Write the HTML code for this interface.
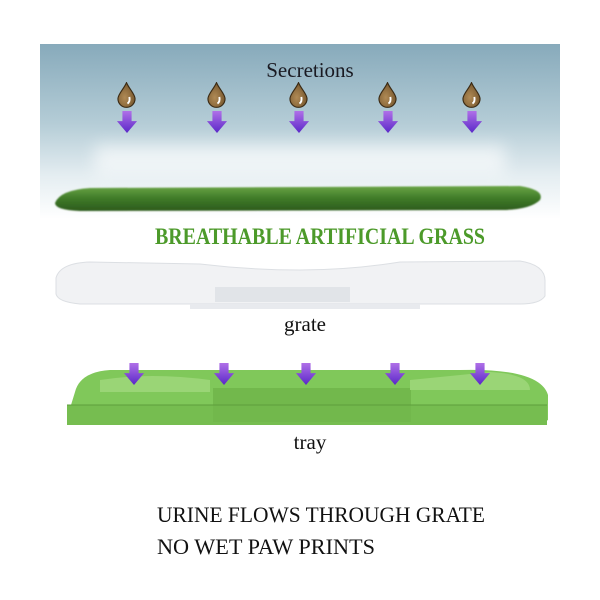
<!DOCTYPE html>
<html><head><meta charset="utf-8"><style>
html,body{margin:0;padding:0;background:#fff;}
svg{display:block}
text{font-family:"Liberation Serif",serif;}
</style></head><body>
<svg width="600" height="600" viewBox="0 0 600 600" xmlns="http://www.w3.org/2000/svg">
<defs>
<linearGradient id="sky" x1="0" y1="0" x2="0" y2="1">
<stop offset="0" stop-color="#87aabb"/>
<stop offset="0.45" stop-color="#b4ccd6"/>
<stop offset="0.75" stop-color="#e4edf1"/>
<stop offset="1" stop-color="#ffffff"/>
</linearGradient>
<linearGradient id="grass" x1="0" y1="0" x2="0" y2="1">
<stop offset="0" stop-color="#6aa545"/>
<stop offset="0.5" stop-color="#3f7a28"/>
<stop offset="1" stop-color="#2c5a1c"/>
</linearGradient>
<linearGradient id="arr" x1="0" y1="0" x2="0" y2="1">
<stop offset="0" stop-color="#b070e8"/>
<stop offset="1" stop-color="#5a28c8"/>
</linearGradient>
<radialGradient id="drop" cx="0.4" cy="0.6" r="0.6">
<stop offset="0" stop-color="#b08a55"/>
<stop offset="1" stop-color="#7a5a30"/>
</radialGradient>
<filter id="bl" x="-50%" y="-50%" width="200%" height="200%"><feGaussianBlur stdDeviation="8"/></filter>
<filter id="bl2"><feGaussianBlur stdDeviation="0.8"/></filter>
<symbol id="a" viewBox="0 0 24 24"><path d="M7 0H17V11H23L12 24L1 11H7Z" fill="url(#arr)"/></symbol>
<symbol id="d" viewBox="0 0 20 26"><path d="M10 0C13 7 19 12 19 17A9 9 0 0 1 1 17C1 12 7 7 10 0Z" fill="url(#drop)" stroke="#3a2a14" stroke-width="1.2"/><path d="M13 15Q14 20 11 22" stroke="#fff" stroke-width="2" fill="none"/></symbol>
</defs>
<rect x="40" y="44" width="520" height="175" fill="url(#sky)"/>
<g fill="#fff" opacity="0.6" filter="url(#bl)">
<rect x="95" y="145" width="410" height="30"/>
</g>
<path d="M55 203Q60 190 90 188L520 186Q545 190 540 200Q530 210 500 210L80 211Q55 210 55 203Z" fill="url(#grass)" filter="url(#bl2)"/>
<text x="310" y="77" font-size="21" text-anchor="middle" fill="#1a1a22">Secretions</text>
<g>
<use href="#d" x="117" y="82" width="19" height="26"/><use href="#d" x="207" y="82" width="19" height="26"/><use href="#d" x="289" y="82" width="19" height="26"/><use href="#d" x="378" y="82" width="19" height="26"/><use href="#d" x="462" y="82" width="19" height="26"/>
<use href="#a" x="116" y="110" width="22" height="24"/><use href="#a" x="206" y="110" width="22" height="24"/><use href="#a" x="288" y="110" width="22" height="24"/><use href="#a" x="377" y="110" width="22" height="24"/><use href="#a" x="461" y="110" width="22" height="24"/>
</g>
<text x="320" y="244" font-size="23" font-weight="bold" text-anchor="middle" fill="#4c9a2a" textLength="330" lengthAdjust="spacingAndGlyphs">BREATHABLE ARTIFICIAL GRASS</text>
<path d="M56 278Q60 263 90 262L200 264Q250 270 300 270Q350 270 400 262L520 261Q546 265 545 282L545 296Q540 304 520 304L80 304Q58 302 56 294Z" fill="#f1f2f4" stroke="#dcdfe3"/>
<rect x="215" y="287" width="135" height="15" fill="#e1e4e8"/>
<rect x="190" y="304" width="230" height="5" fill="#e8eaee"/>
<text x="305" y="331" font-size="21" text-anchor="middle" fill="#111">grate</text>
<path d="M75 392Q80 372 110 370L460 370Q540 368 548 395L548 420L540 425L70 425L67 418Z" fill="#80c85a"/>
<rect x="67" y="405" width="480" height="20" fill="#76bd50"/>
<rect x="213" y="388" width="198" height="34" fill="#72b84c"/>
<path d="M100 392L210 392L210 380Q150 372 100 380Z M410 390L530 390Q530 374 490 372L410 380Z" fill="#9ad576"/>
<line x1="67" y1="405" x2="547" y2="405" stroke="#5e9e3c" stroke-width="1"/>
<g>
<use href="#a" x="123" y="362" width="22" height="24"/><use href="#a" x="213" y="362" width="22" height="24"/><use href="#a" x="295" y="362" width="22" height="24"/><use href="#a" x="384" y="362" width="22" height="24"/><use href="#a" x="469" y="362" width="22" height="24"/>
</g>
<text x="310" y="449" font-size="21" text-anchor="middle" fill="#111">tray</text>
<text x="157" y="522" font-size="22" fill="#111" textLength="328" lengthAdjust="spacingAndGlyphs">URINE FLOWS THROUGH GRATE</text>
<text x="157" y="554" font-size="22" fill="#111" textLength="218" lengthAdjust="spacingAndGlyphs">NO WET PAW PRINTS</text>
</svg>
</body></html>
